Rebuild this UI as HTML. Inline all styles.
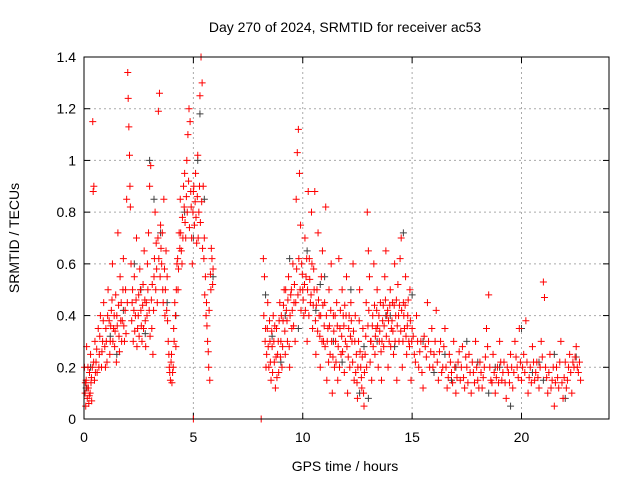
<!DOCTYPE html>
<html><head><meta charset="utf-8"><style>
html,body{margin:0;padding:0;background:#fff;}
svg{display:block;font-family:"Liberation Sans",sans-serif;}
</style></head><body>
<svg id="chart" width="640" height="480">
<text x="345" y="32" font-size="14" text-anchor="middle" fill="#000">Day 270 of 2024, SRMTID for receiver ac53</text>
<text x="345" y="471" font-size="14" text-anchor="middle" fill="#000">GPS time / hours</text>
<text transform="translate(19,238) rotate(-90)" font-size="14" text-anchor="middle" fill="#000">SRMTID / TECUs</text>
<g id="grid"></g>
<g id="ticks"></g>
<g id="marks"></g>
<rect x="84" y="57" width="525" height="362" fill="none" stroke="#000" stroke-width="1"/>
</svg>
<script>
const xTicks=[0,5,10,15,20];
const yTicks=[0,0.2,0.4,0.6,0.8,1,1.2,1.4];
const yTickLabels=["0","0.2","0.4","0.6","0.8","1","1.2","1.4"];
const darkPts=[[0.1,0.12],[0.3,0.2],[1.2,0.32],[1.8,0.42],[2.3,0.6],[2.6,0.5],[3.0,1.0],[3.2,0.85],[3.5,0.72],[3.8,0.45],[4.6,0.8],[5.0,0.7],[5.2,1.0],[5.3,1.18],[5.5,0.85],[5.9,0.55],[8.3,0.48],[8.6,0.32],[9.0,0.22],[9.4,0.62],[9.8,0.35],[10.2,0.65],[10.6,0.42],[11.0,0.55],[11.4,0.3],[11.8,0.22],[12.2,0.5],[12.6,0.1],[13.0,0.08],[13.4,0.3],[13.8,0.4],[14.2,0.28],[14.6,0.72],[15.0,0.48],[15.5,0.3],[16.0,0.18],[16.5,0.25],[17.0,0.2],[17.5,0.3],[18.0,0.22],[18.5,0.1],[19.0,0.2],[19.5,0.05],[20.0,0.35],[20.5,0.18],[21.0,0.15],[21.5,0.25],[22.0,0.08],[22.5,0.24],[1.5,0.25],[2.8,0.33],[4.2,0.4],[9.2,0.4],[10.8,0.52],[12.8,0.28],[14.0,0.4],[16.8,0.15],[18.8,0.2],[20.8,0.22]];
const redPts=[[0.05,0.1],[0.08,0.05],[0.1,0.15],[0.12,0.28],[0.15,0.08],[0.18,0.2],[0.2,0.12],[0.22,0.06],[0.25,0.18],[0.28,0.1],[0.3,0.25],[0.32,0.14],[0.35,0.07],[0.38,0.2],[0.4,1.15],[0.42,0.88],[0.45,0.9],[0.48,0.15],[0.5,0.3],[0.55,0.22],[0.6,0.18],[0.65,0.35],[0.7,0.25],[0.75,0.4],[0.8,0.2],[0.85,0.3],[0.9,0.45],[0.95,0.28],[1.0,0.35],[1.05,0.22],[1.1,0.5],[1.15,0.38],[1.2,0.3],[1.25,0.42],[1.3,0.6],[1.35,0.35],[1.4,0.28],[1.45,0.48],[1.5,0.4],[1.55,0.72],[1.6,0.32],[1.65,0.55],[1.7,0.45],[1.75,0.38],[1.8,0.62],[1.85,0.3],[1.9,0.5],[1.95,0.85],[2.0,1.34],[2.02,1.24],[2.05,1.13],[2.08,1.02],[2.1,0.9],[2.12,0.82],[2.15,0.6],[2.2,0.45],[2.25,0.3],[2.3,0.55],[2.35,0.4],[2.4,0.7],[2.45,0.35],[2.5,0.48],[2.55,0.58],[2.6,0.42],[2.65,0.3],[2.7,0.52],[2.75,0.65],[2.8,0.38],[2.85,0.45],[2.9,0.6],[2.95,0.72],[3.0,0.9],[3.05,0.98],[3.1,0.35],[3.15,0.25],[3.2,0.55],[3.25,0.8],[3.3,0.68],[3.35,0.45],[3.4,1.19],[3.45,1.26],[3.5,0.75],[3.55,0.6],[3.6,0.5],[3.65,0.85],[3.7,0.4],[3.75,0.65],[3.8,0.55],[3.85,0.3],[3.9,0.2],[3.95,0.15],[4.0,0.25],[4.05,0.18],[4.1,0.35],[4.15,0.45],[4.2,0.28],[4.25,0.6],[4.3,0.5],[4.35,0.72],[4.4,0.85],[4.45,0.65],[4.5,0.78],[4.55,0.9],[4.6,0.95],[4.65,0.7],[4.7,1.0],[4.75,1.1],[4.8,1.2],[4.85,1.15],[4.9,0.82],[4.95,0.6],[5.0,0.88],[5.05,0.75],[5.1,0.95],[5.15,0.68],[5.2,1.02],[5.25,0.8],[5.3,1.25],[5.35,1.4],[5.4,1.3],[5.45,0.9],[5.5,0.7],[5.55,0.55],[5.6,0.45],[5.65,0.3],[5.7,0.2],[5.75,0.15],[5.8,0.5],[5.85,0.62],[5.9,0.58],[5.0,0.0],[8.1,0.0],[8.2,0.62],[8.25,0.55],[8.3,0.35],[8.35,0.25],[8.4,0.45],[8.45,0.2],[8.5,0.3],[8.55,0.15],[8.6,0.28],[8.65,0.4],[8.7,0.22],[8.75,0.12],[8.8,0.35],[8.85,0.25],[8.9,0.18],[8.95,0.45],[9.0,0.3],[9.05,0.2],[9.1,0.38],[9.15,0.5],[9.2,0.25],[9.25,0.42],[9.3,0.3],[9.35,0.55],[9.4,0.2],[9.45,0.48],[9.5,0.35],[9.55,0.6],[9.6,0.45],[9.65,0.3],[9.7,0.85],[9.75,1.03],[9.8,1.12],[9.85,0.95],[9.9,0.75],[9.95,0.6],[10.0,0.5],[10.05,0.4],[10.1,0.7],[10.15,0.55],[10.2,0.3],[10.25,0.88],[10.3,0.62],[10.35,0.45],[10.4,0.8],[10.45,0.35],[10.5,0.58],[10.55,0.88],[10.6,0.25],[10.65,0.5],[10.7,0.72],[10.75,0.4],[10.8,0.2],[10.85,0.55],[10.9,0.65],[10.95,0.3],[11.0,0.45],[11.05,0.82],[11.1,0.15],[11.15,0.35],[11.2,0.5],[11.25,0.25],[11.3,0.6],[11.35,0.1],[11.4,0.4],[11.45,0.2],[11.5,0.3],[11.55,0.45],[11.6,0.15],[11.65,0.62],[11.7,0.35],[11.75,0.25],[11.8,0.5],[11.85,0.4],[11.9,0.18],[11.95,0.3],[12.0,0.55],[12.05,0.1],[12.1,0.35],[12.15,0.2],[12.2,0.45],[12.25,0.3],[12.3,0.6],[12.35,0.15],[12.4,0.4],[12.45,0.25],[12.5,0.08],[12.55,0.3],[12.6,0.5],[12.65,0.2],[12.7,0.12],[12.75,0.35],[12.8,0.05],[12.85,0.25],[12.9,0.45],[12.95,0.8],[13.0,0.65],[13.05,0.55],[13.1,0.3],[13.15,0.15],[13.2,0.4],[13.25,0.6],[13.3,0.25],[13.35,0.35],[13.4,0.5],[13.45,0.2],[13.5,0.3],[13.55,0.45],[13.6,0.15],[13.65,0.38],[13.7,0.28],[13.75,0.55],[13.8,0.65],[13.85,0.4],[13.9,0.2],[13.95,0.3],[14.0,0.5],[14.05,0.35],[14.1,0.45],[14.15,0.25],[14.2,0.6],[14.25,0.4],[14.3,0.15],[14.35,0.52],[14.4,0.3],[14.45,0.62],[14.5,0.7],[14.55,0.2],[14.6,0.45],[14.65,0.35],[14.7,0.55],[14.75,0.25],[14.8,0.4],[14.85,0.3],[14.9,0.5],[14.95,0.15],[15.0,0.35],[15.1,0.25],[15.2,0.4],[15.3,0.2],[15.4,0.3],[15.5,0.12],[15.6,0.28],[15.7,0.45],[15.8,0.2],[15.9,0.35],[16.0,0.25],[16.1,0.42],[16.2,0.15],[16.3,0.3],[16.4,0.2],[16.5,0.35],[16.6,0.12],[16.7,0.25],[16.8,0.18],[16.9,0.3],[17.0,0.1],[17.1,0.22],[17.2,0.15],[17.3,0.28],[17.4,0.12],[17.5,0.2],[17.6,0.25],[17.7,0.1],[17.8,0.18],[17.9,0.3],[18.0,0.15],[18.1,0.22],[18.2,0.12],[18.3,0.2],[18.4,0.35],[18.5,0.48],[18.6,0.15],[18.7,0.25],[18.8,0.1],[18.9,0.2],[19.0,0.3],[19.1,0.15],[19.2,0.22],[19.3,0.08],[19.4,0.18],[19.5,0.25],[19.6,0.12],[19.7,0.3],[19.8,0.2],[19.9,0.35],[20.0,0.15],[20.1,0.25],[20.2,0.38],[20.3,0.1],[20.4,0.2],[20.5,0.28],[20.6,0.15],[20.7,0.22],[20.8,0.12],[20.9,0.3],[21.0,0.53],[21.05,0.47],[21.1,0.2],[21.2,0.1],[21.3,0.25],[21.4,0.15],[21.5,0.05],[21.6,0.2],[21.7,0.12],[21.8,0.3],[21.9,0.08],[22.0,0.22],[22.1,0.15],[22.2,0.25],[22.3,0.1],[22.4,0.2],[22.5,0.28],[22.6,0.18],[22.7,0.15]];
const redPts2=[[0.02,0.2],[0.06,0.14],[0.14,0.12],[0.24,0.09],[0.34,0.16],[0.44,0.22],[0.52,0.18],[0.58,0.27],[0.68,0.2],[0.72,0.32],[0.82,0.26],[0.88,0.38],[0.98,0.2],[1.02,0.3],[1.08,0.4],[1.18,0.25],[1.22,0.36],[1.28,0.46],[1.32,0.3],[1.38,0.4],[1.42,0.34],[1.48,0.22],[1.52,0.36],[1.58,0.44],[1.62,0.26],[1.68,0.38],[1.72,0.3],[1.78,0.5],[1.82,0.36],[1.88,0.42],[1.92,0.33],[1.98,0.45],[2.18,0.38],[2.22,0.5],[2.28,0.42],[2.32,0.34],[2.38,0.46],[2.42,0.28],[2.48,0.4],[2.52,0.32],[2.58,0.5],[2.62,0.36],[2.68,0.44],[2.72,0.35],[2.78,0.46],[2.82,0.28],[2.88,0.4],[2.92,0.5],[2.98,0.42],[3.02,0.32],[3.08,0.46],[3.12,0.52],[3.18,0.42],[3.22,0.62],[3.28,0.5],[3.32,0.58],[3.38,0.7],[3.42,0.62],[3.48,0.55],[3.52,0.66],[3.58,0.72],[3.62,0.45],[3.68,0.58],[3.72,0.5],[3.78,0.42],[3.82,0.38],[3.88,0.25],[3.92,0.18],[3.98,0.22],[4.02,0.14],[4.08,0.2],[4.12,0.3],[4.18,0.4],[4.22,0.5],[4.28,0.62],[4.32,0.58],[4.38,0.66],[4.42,0.72],[4.48,0.6],[4.52,0.7],[4.58,0.82],[4.62,0.76],[4.68,0.86],[4.72,0.8],[4.78,0.92],[4.82,0.74],[4.88,0.88],[4.92,0.7],[4.98,0.8],[5.02,0.9],[5.08,0.84],[5.12,0.78],[5.18,0.86],[5.22,0.7],[5.28,0.9],[5.32,0.76],[5.38,0.84],[5.42,0.66],[5.48,0.62],[5.52,0.48],[5.58,0.4],[5.62,0.36],[5.68,0.26],[5.72,0.42],[5.78,0.56],[5.82,0.66],[5.88,0.52],[8.22,0.4],[8.28,0.3],[8.32,0.2],[8.38,0.35],[8.42,0.28],[8.48,0.38],[8.52,0.22],[8.58,0.34],[8.62,0.18],[8.68,0.3],[8.72,0.36],[8.78,0.24],[8.82,0.16],[8.88,0.3],[8.92,0.38],[8.98,0.24],[9.02,0.4],[9.08,0.28],[9.12,0.44],[9.18,0.34],[9.22,0.5],[9.28,0.38],[9.32,0.46],[9.38,0.28],[9.42,0.4],[9.48,0.5],[9.52,0.42],[9.58,0.36],[9.62,0.52],[9.68,0.45],[9.72,0.58],[9.78,0.48],[9.82,0.62],[9.88,0.5],[9.92,0.42],[9.98,0.56],[10.02,0.46],[10.08,0.52],[10.12,0.42],[10.18,0.62],[10.22,0.5],[10.28,0.4],[10.32,0.54],[10.38,0.48],[10.42,0.6],[10.48,0.44],[10.52,0.5],[10.58,0.38],[10.62,0.44],[10.68,0.34],[10.72,0.46],[10.78,0.32],[10.82,0.4],[10.88,0.3],[10.92,0.44],[10.98,0.36],[11.02,0.28],[11.08,0.4],[11.12,0.3],[11.18,0.22],[11.22,0.36],[11.28,0.42],[11.32,0.3],[11.38,0.24],[11.42,0.34],[11.48,0.4],[11.52,0.22],[11.58,0.36],[11.62,0.28],[11.68,0.2],[11.72,0.42],[11.78,0.32],[11.82,0.26],[11.88,0.36],[11.92,0.44],[11.98,0.4],[12.02,0.28],[12.08,0.24],[12.12,0.4],[12.18,0.32],[12.22,0.38],[12.28,0.22],[12.32,0.34],[12.38,0.3],[12.42,0.18],[12.48,0.14],[12.52,0.2],[12.58,0.38],[12.62,0.26],[12.68,0.16],[12.72,0.24],[12.78,0.1],[12.82,0.18],[12.88,0.32],[12.92,0.2],[12.98,0.36],[13.02,0.42],[13.08,0.22],[13.12,0.3],[13.18,0.36],[13.22,0.28],[13.28,0.44],[13.32,0.32],[13.38,0.42],[13.42,0.36],[13.48,0.4],[13.52,0.34],[13.58,0.26],[13.62,0.3],[13.68,0.44],[13.72,0.36],[13.78,0.46],[13.82,0.32],[13.88,0.42],[13.92,0.38],[13.98,0.44],[14.02,0.28],[14.08,0.38],[14.12,0.34],[14.18,0.44],[14.22,0.3],[14.28,0.46],[14.32,0.36],[14.38,0.4],[14.42,0.44],[14.48,0.34],[14.52,0.42],[14.58,0.3],[14.62,0.4],[14.68,0.44],[14.72,0.32],[14.78,0.36],[14.82,0.46],[14.88,0.28],[14.92,0.38],[14.98,0.3],[15.05,0.32],[15.15,0.22],[15.25,0.3],[15.35,0.26],[15.45,0.18],[15.55,0.32],[15.65,0.24],[15.75,0.3],[15.85,0.26],[15.95,0.2],[16.05,0.3],[16.15,0.22],[16.25,0.26],[16.35,0.18],[16.45,0.28],[16.55,0.2],[16.65,0.16],[16.75,0.22],[16.85,0.14],[16.95,0.2],[17.05,0.16],[17.15,0.26],[17.25,0.2],[17.35,0.16],[17.45,0.24],[17.55,0.14],[17.65,0.18],[17.75,0.22],[17.85,0.14],[17.95,0.2],[18.05,0.12],[18.15,0.18],[18.25,0.16],[18.35,0.24],[18.45,0.28],[18.55,0.2],[18.65,0.14],[18.75,0.18],[18.85,0.16],[18.95,0.14],[19.05,0.22],[19.15,0.18],[19.25,0.14],[19.35,0.2],[19.45,0.14],[19.55,0.2],[19.65,0.18],[19.75,0.24],[19.85,0.16],[19.95,0.22],[20.05,0.2],[20.15,0.18],[20.25,0.22],[20.35,0.16],[20.45,0.14],[20.55,0.22],[20.65,0.18],[20.75,0.16],[20.85,0.2],[20.95,0.24],[21.15,0.16],[21.25,0.18],[21.35,0.12],[21.45,0.2],[21.55,0.14],[21.65,0.16],[21.75,0.22],[21.85,0.14],[21.95,0.16],[22.05,0.12],[22.15,0.2],[22.25,0.18],[22.35,0.22],[22.45,0.24],[22.55,0.2],[22.65,0.22]];

const NS="http://www.w3.org/2000/svg";
const L=84,R=609,T=57,B=419,XMAX=24,YMAX=1.4;
function sx(v){return L+(R-L)*v/XMAX;}
function sy(v){return B-(B-T)*v/YMAX;}
function mk(tag,attrs,parent){const e=document.createElementNS(NS,tag);for(const k in attrs)e.setAttribute(k,attrs[k]);parent.appendChild(e);return e;}
const grid=document.getElementById('grid'),ticks=document.getElementById('ticks'),marks=document.getElementById('marks');
xTicks.forEach(v=>{
  const x=sx(v);
  if(v>0){const g=mk('line',{x1:x,x2:x,y1:T,y2:B,stroke:'#aaa','stroke-dasharray':'2,3'},grid);
  
  }
  mk('line',{x1:x,x2:x,y1:B,y2:B-6,stroke:'#000'},ticks);
  mk('line',{x1:x,x2:x,y1:T,y2:T+6,stroke:'#000'},ticks);
  const t=mk('text',{x:x,y:B+23,'font-size':14,'text-anchor':'middle'},ticks);t.textContent=v;
  
  
});
yTicks.forEach((v,i)=>{
  const y=sy(v);
  if(v>0&&v<YMAX){const g=mk('line',{x1:L,x2:R,y1:y,y2:y,stroke:'#aaa','stroke-dasharray':'2,3'},grid);
  
  }
  mk('line',{x1:L,x2:L+6,y1:y,y2:y,stroke:'#000'},ticks);
  mk('line',{x1:R,x2:R-6,y1:y,y2:y,stroke:'#000'},ticks);
  const t=mk('text',{x:L-8,y:y+5,'font-size':14,'text-anchor':'end'},ticks);t.textContent=yTickLabels[i];
  
  
});
function plus(pts,color,name){
  let d='';
  pts.forEach(p=>{const x=sx(p[0]),y=sy(p[1]);d+=`M${x-3.5},${y}h7M${x},${y-3.5}v7`;});
  const e=mk('path',{d:d,stroke:color,'stroke-width':1,fill:'none'},marks);
  
  
}
plus(darkPts,'#404040','series-dark-points');
plus(redPts,'#ff0000','series-red-points');
plus(redPts2,'#ff0000','series-red-points-extra');
</script>
</body></html>
